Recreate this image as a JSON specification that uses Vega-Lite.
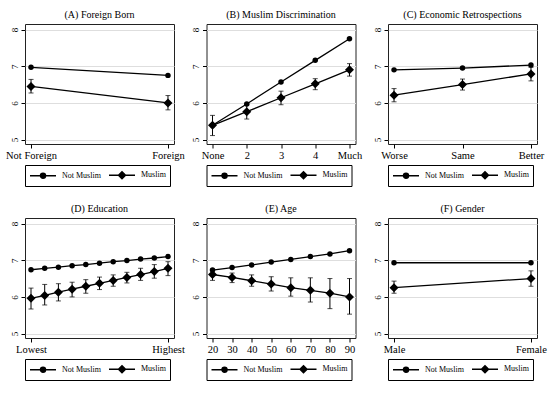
{
  "$schema": "https://vega.github.io/schema/vega-lite/v6.json",
  "padding": {"left": 5, "top": 9, "right": 5, "bottom": 5},
  "background": "white",
  "bounds": "flush",
  "columns": 3,
  "spacing": {"column": 32.5, "row": 74},
  "datasets": {
    "d": [
      {"p": "A", "c": "Not Foreign", "g": "Not Muslim", "y": 6.97},
      {"p": "A", "c": "Foreign", "g": "Not Muslim", "y": 6.75},
      {"p": "A", "c": "Not Foreign", "g": "Muslim", "y": 6.45, "lo": 6.27, "hi": 6.64},
      {"p": "A", "c": "Foreign", "g": "Muslim", "y": 6.0, "lo": 5.81, "hi": 6.2},
      {"p": "B", "c": "None", "g": "Not Muslim", "y": 5.39},
      {"p": "B", "c": "2", "g": "Not Muslim", "y": 5.97},
      {"p": "B", "c": "3", "g": "Not Muslim", "y": 6.57},
      {"p": "B", "c": "4", "g": "Not Muslim", "y": 7.16},
      {"p": "B", "c": "Much", "g": "Not Muslim", "y": 7.75},
      {"p": "B", "c": "None", "g": "Muslim", "y": 5.39, "lo": 5.11, "hi": 5.66},
      {"p": "B", "c": "2", "g": "Muslim", "y": 5.76, "lo": 5.56, "hi": 5.95},
      {"p": "B", "c": "3", "g": "Muslim", "y": 6.14, "lo": 5.95, "hi": 6.32},
      {"p": "B", "c": "4", "g": "Muslim", "y": 6.52, "lo": 6.36, "hi": 6.66},
      {"p": "B", "c": "Much", "g": "Muslim", "y": 6.9, "lo": 6.73, "hi": 7.07},
      {"p": "C", "c": "Worse", "g": "Not Muslim", "y": 6.9},
      {"p": "C", "c": "Same", "g": "Not Muslim", "y": 6.95},
      {"p": "C", "c": "Better", "g": "Not Muslim", "y": 7.03},
      {"p": "C", "c": "Worse", "g": "Muslim", "y": 6.21, "lo": 6.03, "hi": 6.39},
      {"p": "C", "c": "Same", "g": "Muslim", "y": 6.5, "lo": 6.35, "hi": 6.65},
      {"p": "C", "c": "Better", "g": "Muslim", "y": 6.79, "lo": 6.6, "hi": 6.97},
      {"p": "D", "n": 1, "g": "Not Muslim", "y": 6.74},
      {"p": "D", "n": 2, "g": "Not Muslim", "y": 6.78},
      {"p": "D", "n": 3, "g": "Not Muslim", "y": 6.81},
      {"p": "D", "n": 4, "g": "Not Muslim", "y": 6.85},
      {"p": "D", "n": 5, "g": "Not Muslim", "y": 6.88},
      {"p": "D", "n": 6, "g": "Not Muslim", "y": 6.92},
      {"p": "D", "n": 7, "g": "Not Muslim", "y": 6.96},
      {"p": "D", "n": 8, "g": "Not Muslim", "y": 6.99},
      {"p": "D", "n": 9, "g": "Not Muslim", "y": 7.03},
      {"p": "D", "n": 10, "g": "Not Muslim", "y": 7.06},
      {"p": "D", "n": 11, "g": "Not Muslim", "y": 7.1},
      {"p": "D", "n": 1, "g": "Muslim", "y": 5.96, "lo": 5.67, "hi": 6.24},
      {"p": "D", "n": 2, "g": "Muslim", "y": 6.04, "lo": 5.78, "hi": 6.34},
      {"p": "D", "n": 3, "g": "Muslim", "y": 6.13, "lo": 5.89, "hi": 6.36},
      {"p": "D", "n": 4, "g": "Muslim", "y": 6.21, "lo": 6.0, "hi": 6.4},
      {"p": "D", "n": 5, "g": "Muslim", "y": 6.29, "lo": 6.1, "hi": 6.47},
      {"p": "D", "n": 6, "g": "Muslim", "y": 6.37, "lo": 6.2, "hi": 6.54},
      {"p": "D", "n": 7, "g": "Muslim", "y": 6.45, "lo": 6.29, "hi": 6.6},
      {"p": "D", "n": 8, "g": "Muslim", "y": 6.53, "lo": 6.38, "hi": 6.67},
      {"p": "D", "n": 9, "g": "Muslim", "y": 6.61, "lo": 6.45, "hi": 6.78},
      {"p": "D", "n": 10, "g": "Muslim", "y": 6.69, "lo": 6.51, "hi": 6.88},
      {"p": "D", "n": 11, "g": "Muslim", "y": 6.78, "lo": 6.58, "hi": 6.96},
      {"p": "E", "n": 20, "g": "Not Muslim", "y": 6.73},
      {"p": "E", "n": 30, "g": "Not Muslim", "y": 6.8},
      {"p": "E", "n": 40, "g": "Not Muslim", "y": 6.87},
      {"p": "E", "n": 50, "g": "Not Muslim", "y": 6.95},
      {"p": "E", "n": 60, "g": "Not Muslim", "y": 7.02},
      {"p": "E", "n": 70, "g": "Not Muslim", "y": 7.1},
      {"p": "E", "n": 80, "g": "Not Muslim", "y": 7.17},
      {"p": "E", "n": 90, "g": "Not Muslim", "y": 7.26},
      {"p": "E", "n": 20, "g": "Muslim", "y": 6.61, "lo": 6.45, "hi": 6.75},
      {"p": "E", "n": 30, "g": "Muslim", "y": 6.53, "lo": 6.39, "hi": 6.65},
      {"p": "E", "n": 40, "g": "Muslim", "y": 6.44, "lo": 6.29, "hi": 6.6},
      {"p": "E", "n": 50, "g": "Muslim", "y": 6.35, "lo": 6.16, "hi": 6.55},
      {"p": "E", "n": 60, "g": "Muslim", "y": 6.25, "lo": 6.02, "hi": 6.52},
      {"p": "E", "n": 70, "g": "Muslim", "y": 6.18, "lo": 5.86, "hi": 6.52},
      {"p": "E", "n": 80, "g": "Muslim", "y": 6.1, "lo": 5.68, "hi": 6.5},
      {"p": "E", "n": 90, "g": "Muslim", "y": 6.0, "lo": 5.53, "hi": 6.5},
      {"p": "F", "c": "Male", "g": "Not Muslim", "y": 6.93},
      {"p": "F", "c": "Female", "g": "Not Muslim", "y": 6.93},
      {"p": "F", "c": "Male", "g": "Muslim", "y": 6.25, "lo": 6.1, "hi": 6.43},
      {"p": "F", "c": "Female", "g": "Muslim", "y": 6.5, "lo": 6.29, "hi": 6.71}
    ]
  },
  "data": {"name": "d"},
  "resolve": {
    "scale": {"shape": "independent"},
    "legend": {"shape": "independent"}
  },
  "concat": [
    {
      "title": "(A) Foreign Born",
      "width": 149, "height": 120,
      "transform": [{"filter": "datum.p == 'A'"}],
      "encoding": {"x": {"field": "c", "type": "ordinal", "sort": ["Not Foreign", "Foreign"], "scale": {"type": "point", "padding": 0.044}, "axis": {"title": null, "labelAngle": 0}}},
      "layer": [
        {"mark": {"type": "line", "color": "black", "strokeWidth": 1.3}, "encoding": {"y": {"field": "y", "type": "quantitative", "scale": {"domain": [4.88, 8.15], "nice": false, "zero": false}, "axis": {"title": null, "values": [5, 6, 7, 8]}}, "detail": {"field": "g"}}},
        {"transform": [{"filter": "isValid(datum.lo)"}], "mark": {"type": "rule", "color": "black", "strokeWidth": 1}, "encoding": {"y": {"field": "lo", "type": "quantitative", "axis": {"title": null, "values": [5, 6, 7, 8]}}, "y2": {"field": "hi"}}},
        {"transform": [{"filter": "isValid(datum.lo)"}], "mark": {"type": "tick", "color": "black", "size": 5, "thickness": 1, "orient": "horizontal"}, "encoding": {"y": {"field": "lo", "type": "quantitative", "axis": {"title": null, "values": [5, 6, 7, 8]}}}},
        {"transform": [{"filter": "isValid(datum.lo)"}], "mark": {"type": "tick", "color": "black", "size": 5, "thickness": 1, "orient": "horizontal"}, "encoding": {"y": {"field": "hi", "type": "quantitative", "axis": {"title": null, "values": [5, 6, 7, 8]}}}},
        {"mark": {"type": "point", "filled": true, "opacity": 1, "color": "black"}, "encoding": {"y": {"field": "y", "type": "quantitative", "axis": {"title": null, "values": [5, 6, 7, 8]}}, "size": {"condition": {"test": "datum.g == 'Muslim'", "value": 81}, "value": 30}, "shape": {"condition": {"test": "datum.g == 'Muslim'", "value": "diamond"}, "value": "circle"}}},
        {"transform": [{"filter": "false"}], "mark": {"type": "point", "filled": true, "opacity": 1, "fill": "black", "stroke": "black", "strokeWidth": 1.2}, "encoding": {"y": {"field": "y", "type": "quantitative", "axis": {"title": null, "values": [5, 6, 7, 8]}}, "shape": {"field": "g", "type": "nominal", "scale": {"domain": ["Not Muslim", "Muslim"], "range": ["M-1,0H4.2M1.1,0A0.5,0.5,0,1,1,2.1,0A0.5,0.5,0,1,1,1.1,0Z", "M-1,0H4.2M1.6,-0.7L2.3,0L1.6,0.7L0.9,0Z"]}, "legend": {"title": null, "orient": "bottom", "direction": "horizontal", "symbolSize": 100, "encode": {"symbols": {"stroke": {"value": "black"}, "strokeWidth": {"value": 1.2}, "fill": {"value": "black"}}}}}}}
      ]
    },
    {
      "title": "(B) Muslim Discrimination",
      "width": 149, "height": 120,
      "transform": [{"filter": "datum.p == 'B'"}],
      "encoding": {"x": {"field": "c", "type": "ordinal", "sort": ["None", "2", "3", "4", "Much"], "scale": {"type": "point", "padding": 0.176}, "axis": {"title": null, "labelAngle": 0}}},
      "layer": [
        {"mark": {"type": "line", "color": "black", "strokeWidth": 1.3}, "encoding": {"y": {"field": "y", "type": "quantitative", "scale": {"domain": [4.88, 8.15], "nice": false, "zero": false}, "axis": {"title": null, "values": [5, 6, 7, 8]}}, "detail": {"field": "g"}}},
        {"transform": [{"filter": "isValid(datum.lo)"}], "mark": {"type": "rule", "color": "black", "strokeWidth": 1}, "encoding": {"y": {"field": "lo", "type": "quantitative", "axis": {"title": null, "values": [5, 6, 7, 8]}}, "y2": {"field": "hi"}}},
        {"transform": [{"filter": "isValid(datum.lo)"}], "mark": {"type": "tick", "color": "black", "size": 5, "thickness": 1, "orient": "horizontal"}, "encoding": {"y": {"field": "lo", "type": "quantitative", "axis": {"title": null, "values": [5, 6, 7, 8]}}}},
        {"transform": [{"filter": "isValid(datum.lo)"}], "mark": {"type": "tick", "color": "black", "size": 5, "thickness": 1, "orient": "horizontal"}, "encoding": {"y": {"field": "hi", "type": "quantitative", "axis": {"title": null, "values": [5, 6, 7, 8]}}}},
        {"mark": {"type": "point", "filled": true, "opacity": 1, "color": "black"}, "encoding": {"y": {"field": "y", "type": "quantitative", "axis": {"title": null, "values": [5, 6, 7, 8]}}, "size": {"condition": {"test": "datum.g == 'Muslim'", "value": 81}, "value": 30}, "shape": {"condition": {"test": "datum.g == 'Muslim'", "value": "diamond"}, "value": "circle"}}},
        {"transform": [{"filter": "false"}], "mark": {"type": "point", "filled": true, "opacity": 1, "fill": "black", "stroke": "black", "strokeWidth": 1.2}, "encoding": {"y": {"field": "y", "type": "quantitative", "axis": {"title": null, "values": [5, 6, 7, 8]}}, "shape": {"field": "g", "type": "nominal", "scale": {"domain": ["Not Muslim", "Muslim"], "range": ["M-1,0H4.2M1.1,0A0.5,0.5,0,1,1,2.1,0A0.5,0.5,0,1,1,1.1,0Z", "M-1,0H4.2M1.6,-0.7L2.3,0L1.6,0.7L0.9,0Z"]}, "legend": {"title": null, "orient": "bottom", "direction": "horizontal", "symbolSize": 100, "encode": {"symbols": {"stroke": {"value": "black"}, "strokeWidth": {"value": 1.2}, "fill": {"value": "black"}}}}}}}
      ]
    },
    {
      "title": "(C) Economic Retrospections",
      "width": 149, "height": 120,
      "transform": [{"filter": "datum.p == 'C'"}],
      "encoding": {"x": {"field": "c", "type": "ordinal", "sort": ["Worse", "Same", "Better"], "scale": {"type": "point", "padding": 0.088}, "axis": {"title": null, "labelAngle": 0}}},
      "layer": [
        {"mark": {"type": "line", "color": "black", "strokeWidth": 1.3}, "encoding": {"y": {"field": "y", "type": "quantitative", "scale": {"domain": [4.88, 8.15], "nice": false, "zero": false}, "axis": {"title": null, "values": [5, 6, 7, 8]}}, "detail": {"field": "g"}}},
        {"transform": [{"filter": "isValid(datum.lo)"}], "mark": {"type": "rule", "color": "black", "strokeWidth": 1}, "encoding": {"y": {"field": "lo", "type": "quantitative", "axis": {"title": null, "values": [5, 6, 7, 8]}}, "y2": {"field": "hi"}}},
        {"transform": [{"filter": "isValid(datum.lo)"}], "mark": {"type": "tick", "color": "black", "size": 5, "thickness": 1, "orient": "horizontal"}, "encoding": {"y": {"field": "lo", "type": "quantitative", "axis": {"title": null, "values": [5, 6, 7, 8]}}}},
        {"transform": [{"filter": "isValid(datum.lo)"}], "mark": {"type": "tick", "color": "black", "size": 5, "thickness": 1, "orient": "horizontal"}, "encoding": {"y": {"field": "hi", "type": "quantitative", "axis": {"title": null, "values": [5, 6, 7, 8]}}}},
        {"mark": {"type": "point", "filled": true, "opacity": 1, "color": "black"}, "encoding": {"y": {"field": "y", "type": "quantitative", "axis": {"title": null, "values": [5, 6, 7, 8]}}, "size": {"condition": {"test": "datum.g == 'Muslim'", "value": 81}, "value": 30}, "shape": {"condition": {"test": "datum.g == 'Muslim'", "value": "diamond"}, "value": "circle"}}},
        {"transform": [{"filter": "false"}], "mark": {"type": "point", "filled": true, "opacity": 1, "fill": "black", "stroke": "black", "strokeWidth": 1.2}, "encoding": {"y": {"field": "y", "type": "quantitative", "axis": {"title": null, "values": [5, 6, 7, 8]}}, "shape": {"field": "g", "type": "nominal", "scale": {"domain": ["Not Muslim", "Muslim"], "range": ["M-1,0H4.2M1.1,0A0.5,0.5,0,1,1,2.1,0A0.5,0.5,0,1,1,1.1,0Z", "M-1,0H4.2M1.6,-0.7L2.3,0L1.6,0.7L0.9,0Z"]}, "legend": {"title": null, "orient": "bottom", "direction": "horizontal", "symbolSize": 100, "encode": {"symbols": {"stroke": {"value": "black"}, "strokeWidth": {"value": 1.2}, "fill": {"value": "black"}}}}}}}
      ]
    },
    {
      "title": "(D) Education",
      "width": 149, "height": 120,
      "transform": [{"filter": "datum.p == 'D'"}],
      "encoding": {"x": {"field": "n", "type": "quantitative", "scale": {"domain": [1, 11], "nice": false, "zero": false, "padding": 6}, "axis": {"title": null, "values": [1, 11], "labelExpr": "datum.value == 1 ? 'Lowest' : 'Highest'", "labelFlush": false}}},
      "layer": [
        {"mark": {"type": "line", "color": "black", "strokeWidth": 1.3}, "encoding": {"y": {"field": "y", "type": "quantitative", "scale": {"domain": [4.88, 8.15], "nice": false, "zero": false}, "axis": {"title": null, "values": [5, 6, 7, 8]}}, "detail": {"field": "g"}}},
        {"transform": [{"filter": "isValid(datum.lo)"}], "mark": {"type": "rule", "color": "black", "strokeWidth": 1}, "encoding": {"y": {"field": "lo", "type": "quantitative", "axis": {"title": null, "values": [5, 6, 7, 8]}}, "y2": {"field": "hi"}}},
        {"transform": [{"filter": "isValid(datum.lo)"}], "mark": {"type": "tick", "color": "black", "size": 5, "thickness": 1, "orient": "horizontal"}, "encoding": {"y": {"field": "lo", "type": "quantitative", "axis": {"title": null, "values": [5, 6, 7, 8]}}}},
        {"transform": [{"filter": "isValid(datum.lo)"}], "mark": {"type": "tick", "color": "black", "size": 5, "thickness": 1, "orient": "horizontal"}, "encoding": {"y": {"field": "hi", "type": "quantitative", "axis": {"title": null, "values": [5, 6, 7, 8]}}}},
        {"mark": {"type": "point", "filled": true, "opacity": 1, "color": "black"}, "encoding": {"y": {"field": "y", "type": "quantitative", "axis": {"title": null, "values": [5, 6, 7, 8]}}, "size": {"condition": {"test": "datum.g == 'Muslim'", "value": 81}, "value": 30}, "shape": {"condition": {"test": "datum.g == 'Muslim'", "value": "diamond"}, "value": "circle"}}},
        {"transform": [{"filter": "false"}], "mark": {"type": "point", "filled": true, "opacity": 1, "fill": "black", "stroke": "black", "strokeWidth": 1.2}, "encoding": {"y": {"field": "y", "type": "quantitative", "axis": {"title": null, "values": [5, 6, 7, 8]}}, "shape": {"field": "g", "type": "nominal", "scale": {"domain": ["Not Muslim", "Muslim"], "range": ["M-1,0H4.2M1.1,0A0.5,0.5,0,1,1,2.1,0A0.5,0.5,0,1,1,1.1,0Z", "M-1,0H4.2M1.6,-0.7L2.3,0L1.6,0.7L0.9,0Z"]}, "legend": {"title": null, "orient": "bottom", "direction": "horizontal", "symbolSize": 100, "encode": {"symbols": {"stroke": {"value": "black"}, "strokeWidth": {"value": 1.2}, "fill": {"value": "black"}}}}}}}
      ]
    },
    {
      "title": "(E) Age",
      "width": 149, "height": 120,
      "transform": [{"filter": "datum.p == 'E'"}],
      "encoding": {"x": {"field": "n", "type": "quantitative", "scale": {"domain": [20, 90], "nice": false, "zero": false, "padding": 6}, "axis": {"title": null, "values": [20, 30, 40, 50, 60, 70, 80, 90], "labelFlush": false}}},
      "layer": [
        {"mark": {"type": "line", "color": "black", "strokeWidth": 1.3}, "encoding": {"y": {"field": "y", "type": "quantitative", "scale": {"domain": [4.88, 8.15], "nice": false, "zero": false}, "axis": {"title": null, "values": [5, 6, 7, 8]}}, "detail": {"field": "g"}}},
        {"transform": [{"filter": "isValid(datum.lo)"}], "mark": {"type": "rule", "color": "black", "strokeWidth": 1}, "encoding": {"y": {"field": "lo", "type": "quantitative", "axis": {"title": null, "values": [5, 6, 7, 8]}}, "y2": {"field": "hi"}}},
        {"transform": [{"filter": "isValid(datum.lo)"}], "mark": {"type": "tick", "color": "black", "size": 5, "thickness": 1, "orient": "horizontal"}, "encoding": {"y": {"field": "lo", "type": "quantitative", "axis": {"title": null, "values": [5, 6, 7, 8]}}}},
        {"transform": [{"filter": "isValid(datum.lo)"}], "mark": {"type": "tick", "color": "black", "size": 5, "thickness": 1, "orient": "horizontal"}, "encoding": {"y": {"field": "hi", "type": "quantitative", "axis": {"title": null, "values": [5, 6, 7, 8]}}}},
        {"mark": {"type": "point", "filled": true, "opacity": 1, "color": "black"}, "encoding": {"y": {"field": "y", "type": "quantitative", "axis": {"title": null, "values": [5, 6, 7, 8]}}, "size": {"condition": {"test": "datum.g == 'Muslim'", "value": 81}, "value": 30}, "shape": {"condition": {"test": "datum.g == 'Muslim'", "value": "diamond"}, "value": "circle"}}},
        {"transform": [{"filter": "false"}], "mark": {"type": "point", "filled": true, "opacity": 1, "fill": "black", "stroke": "black", "strokeWidth": 1.2}, "encoding": {"y": {"field": "y", "type": "quantitative", "axis": {"title": null, "values": [5, 6, 7, 8]}}, "shape": {"field": "g", "type": "nominal", "scale": {"domain": ["Not Muslim", "Muslim"], "range": ["M-1,0H4.2M1.1,0A0.5,0.5,0,1,1,2.1,0A0.5,0.5,0,1,1,1.1,0Z", "M-1,0H4.2M1.6,-0.7L2.3,0L1.6,0.7L0.9,0Z"]}, "legend": {"title": null, "orient": "bottom", "direction": "horizontal", "symbolSize": 100, "encode": {"symbols": {"stroke": {"value": "black"}, "strokeWidth": {"value": 1.2}, "fill": {"value": "black"}}}}}}}
      ]
    },
    {
      "title": "(F) Gender",
      "width": 149, "height": 120,
      "transform": [{"filter": "datum.p == 'F'"}],
      "encoding": {"x": {"field": "c", "type": "ordinal", "sort": ["Male", "Female"], "scale": {"type": "point", "padding": 0.044}, "axis": {"title": null, "labelAngle": 0}}},
      "layer": [
        {"mark": {"type": "line", "color": "black", "strokeWidth": 1.3}, "encoding": {"y": {"field": "y", "type": "quantitative", "scale": {"domain": [4.88, 8.15], "nice": false, "zero": false}, "axis": {"title": null, "values": [5, 6, 7, 8]}}, "detail": {"field": "g"}}},
        {"transform": [{"filter": "isValid(datum.lo)"}], "mark": {"type": "rule", "color": "black", "strokeWidth": 1}, "encoding": {"y": {"field": "lo", "type": "quantitative", "axis": {"title": null, "values": [5, 6, 7, 8]}}, "y2": {"field": "hi"}}},
        {"transform": [{"filter": "isValid(datum.lo)"}], "mark": {"type": "tick", "color": "black", "size": 5, "thickness": 1, "orient": "horizontal"}, "encoding": {"y": {"field": "lo", "type": "quantitative", "axis": {"title": null, "values": [5, 6, 7, 8]}}}},
        {"transform": [{"filter": "isValid(datum.lo)"}], "mark": {"type": "tick", "color": "black", "size": 5, "thickness": 1, "orient": "horizontal"}, "encoding": {"y": {"field": "hi", "type": "quantitative", "axis": {"title": null, "values": [5, 6, 7, 8]}}}},
        {"mark": {"type": "point", "filled": true, "opacity": 1, "color": "black"}, "encoding": {"y": {"field": "y", "type": "quantitative", "axis": {"title": null, "values": [5, 6, 7, 8]}}, "size": {"condition": {"test": "datum.g == 'Muslim'", "value": 81}, "value": 30}, "shape": {"condition": {"test": "datum.g == 'Muslim'", "value": "diamond"}, "value": "circle"}}},
        {"transform": [{"filter": "false"}], "mark": {"type": "point", "filled": true, "opacity": 1, "fill": "black", "stroke": "black", "strokeWidth": 1.2}, "encoding": {"y": {"field": "y", "type": "quantitative", "axis": {"title": null, "values": [5, 6, 7, 8]}}, "shape": {"field": "g", "type": "nominal", "scale": {"domain": ["Not Muslim", "Muslim"], "range": ["M-1,0H4.2M1.1,0A0.5,0.5,0,1,1,2.1,0A0.5,0.5,0,1,1,1.1,0Z", "M-1,0H4.2M1.6,-0.7L2.3,0L1.6,0.7L0.9,0Z"]}, "legend": {"title": null, "orient": "bottom", "direction": "horizontal", "symbolSize": 100, "encode": {"symbols": {"stroke": {"value": "black"}, "strokeWidth": {"value": 1.2}, "fill": {"value": "black"}}}}}}}
      ]
    }
  ],
  "config": {
    "font": "Liberation Serif",
    "view": {"stroke": "#222", "strokeWidth": 1},
    "title": {"font": "Liberation Serif", "fontSize": 10, "fontWeight": "normal", "color": "black", "offset": 4},
    "axis": {"labelFont": "Liberation Serif", "labelColor": "black", "tickColor": "black", "tickSize": 4, "domain": false},
    "axisX": {"labelFontSize": 10.5, "labelPadding": 2, "grid": false},
    "axisY": {"labelFontSize": 9, "labelAngle": 270, "labelPadding": 2, "labelOverlap": false, "grid": true, "gridColor": "#dedede", "gridWidth": 1},
    "legend": {"labelFont": "Liberation Serif", "labelFontSize": 8, "labelColor": "black", "strokeColor": "black", "padding": 4, "offset": 4, "columnPadding": 5, "labelOffset": 21}
  }
}
